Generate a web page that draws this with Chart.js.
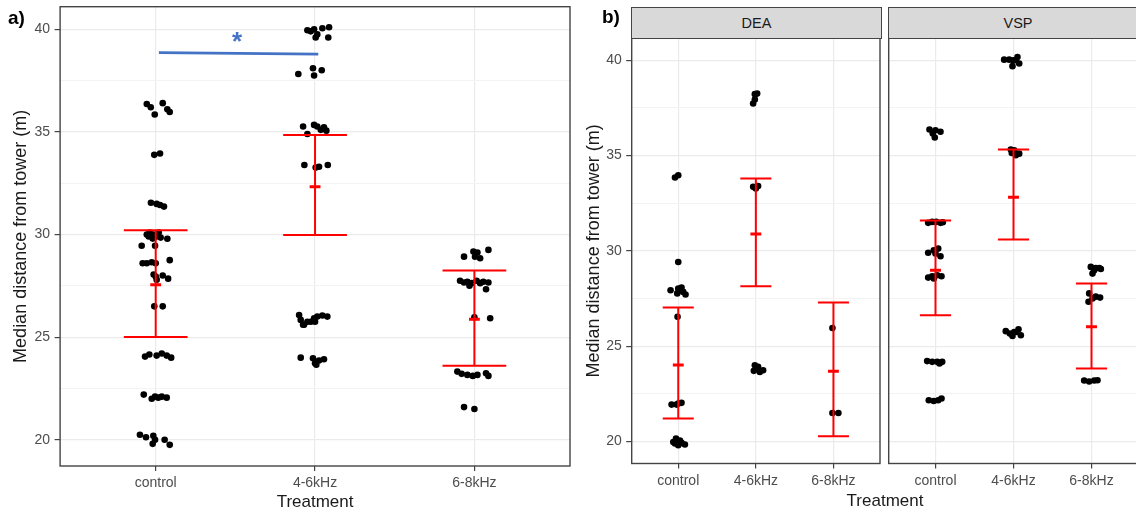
<!DOCTYPE html>
<html lang="en">
<head>
<meta charset="UTF-8">
<title>Median distance from tower by treatment</title>
<style>
    html, body {
        margin: 0;
        padding: 0;
        background: #fff;
        overflow: hidden;
    }
    body {
        width: 1136px;
        height: 514px;
        position: relative;
        font-family: "Liberation Sans", Arial, sans-serif;
    }
    .panel {
        position: absolute;
        top: 0;
        height: 514px;
    }
    #wrapA { left: 0; width: 580px; }
    #wrapDEA { left: 580px; width: 304px; }
    #wrapVSP { left: 884px; width: 260px; }
    .strip {
        position: absolute;
        top: 7px;
        height: 32px;
        background: #d9d9d9;
        border: 1.4px solid #444;
        box-sizing: border-box;
        text-align: center;
        line-height: 30px;
        font-size: 14.5px;
        color: #1a1a1a;
    }
    .tag {
        position: absolute;
        font-weight: bold;
        font-size: 19px;
        color: #000;
    }
    .xtitle {
        position: absolute;
        font-size: 17px;
        color: #1a1a1a;
        text-align: center;
        line-height: 20px;
    }
</style>
</head>
<body>
    <div class="panel" id="wrapA"><canvas id="chartA"></canvas></div>
    <div class="panel" id="wrapDEA"><canvas id="chartDEA"></canvas></div>
    <div class="panel" id="wrapVSP"><canvas id="chartVSP"></canvas></div>

    <div class="strip" style="left:631px; width:251px;">DEA</div>
    <div class="strip" style="left:888px; width:260px;">VSP</div>

    <div class="tag" style="left:8px; top:7px;">a)</div>
    <div class="tag" style="left:602px; top:6px;">b)</div>
    <div class="xtitle" style="left:785px; top:491px; width:200px;">Treatment</div>

    <script src="https://cdn.jsdelivr.net/npm/chart.js"></script>
    <script>
        const categories = ['control', '4-6kHz', '6-8kHz'];
        const yTicks = [20, 25, 30, 35, 40];
        const yMinor = [22.5, 27.5, 32.5, 37.5];

        // a) all sites, each point is [median distance, horizontal jitter]
        const aControl = [
            [36.36, -0.056], [36.2, -0.031], [35.85, -0.006], [36.4, 0.044], [36.1, 0.073], [35.97, 0.088],
            [33.88, -0.009], [33.95, 0.027],
            [31.55, -0.03], [31.49, 0.006], [31.44, 0.027], [31.36, 0.052],
            [30.0, -0.056], [30.1, -0.038], [30.0, -0.013], [30.1, 0.019], [29.85, 0.031], [29.8, -0.019], [29.9, -0.044], [29.9, 0.006],
            [29.79, 0.073], [29.45, -0.088], [29.45, -0.004],
            [28.6, -0.082], [28.6, -0.056], [28.65, -0.025], [28.6, 0], [28.75, 0.088],
            [28.05, -0.013], [27.8, 0.006], [28.0, 0.044], [27.85, 0.078], [27.95, 0],
            [26.5, -0.009], [26.5, 0.044],
            [24.05, -0.067], [24.15, -0.04], [24.1, 0.006], [24.2, 0.038], [24.1, 0.069], [24.0, 0.097],
            [22.2, -0.075], [22.0, -0.025], [22.1, -0.004], [22.05, 0.016], [22.1, 0.038], [22.05, 0.069],
            [20.24, -0.099], [20.12, -0.061], [20.19, -0.015], [20.0, -0.004], [19.8, -0.019], [20.0, 0.056], [19.75, 0.088]
        ];
        const a46 = [
            [39.95, -0.048], [39.9, -0.027], [40.0, -0.006], [39.75, 0.014], [39.6, 0.004], [40.05, 0.046], [40.1, 0.088], [39.6, 0.083],
            [37.82, -0.105], [38.1, -0.013], [37.75, -0.006], [38.0, 0.042],
            [35.26, -0.075], [35.34, -0.006], [35.26, 0.014], [35.22, 0.056], [35.06, 0.071], [34.9, -0.048], [35.1, 0.036],
            [33.39, -0.067], [33.26, 0.004], [33.3, 0.025], [33.39, 0.08],
            [26.08, -0.1], [25.84, -0.09], [25.6, -0.075], [25.75, -0.048], [25.75, -0.027], [25.92, -0.006], [26.0, 0.014], [26.05, 0.046], [26.0, 0.077], [25.6, -0.069], [25.75, 0],
            [24.0, -0.09], [23.97, -0.013], [23.73, 0], [23.86, 0.025], [23.92, 0.056], [23.65, 0.008]
        ];
        const a68 = [
            [28.92, -0.065], [29.17, -0.006], [29.12, 0.019], [28.84, 0.036], [29.25, 0.088], [28.92, 0.004],
            [27.75, -0.09], [27.66, -0.065], [27.7, -0.044], [27.63, -0.017], [27.75, 0.014], [27.63, 0.036], [27.7, 0.056], [27.66, 0.088], [27.33, 0.073], [27.5, -0.031],
            [25.97, 0], [25.92, 0.099],
            [23.32, -0.107], [23.21, -0.08], [23.16, -0.044], [23.11, -0.01], [23.16, 0.019], [23.24, 0.073], [23.11, 0.088],
            [21.59, -0.065], [21.5, 0]
        ];
        const aMean = [27.55, 32.33, 25.87];
        const aLow = [25.01, 29.97, 23.61];
        const aHigh = [30.21, 34.85, 28.24];

        // significance bar control vs 4-6kHz
        const sigFrom = [1.02, 38.86];
        const sigTo = [2.02, 38.79];
        const sigMark = [1.51, 39.72, '*'];

        // b) DEA site
        const deaControl = [
            [33.85, -0.042], [33.97, 0],
            [29.42, 0],
            [27.94, -0.099], [28.03, 0], [28.08, 0.042], [27.85, 0.064], [27.77, -0.013], [27.71, 0.094], [27.94, 0.022],
            [26.54, -0.009],
            [21.94, -0.086], [22.0, 0], [22.03, 0.042], [21.94, -0.022],
            [19.98, -0.064], [20.16, -0.029], [19.81, 0], [19.93, 0.042], [19.85, 0.086], [19.9, -0.042], [20.05, 0.022]
        ];
        const dea46 = [
            [38.22, -0.013], [38.25, 0.017], [37.73, -0.035], [37.94, -0.013],
            [33.36, -0.035], [33.4, 0.029], [33.27, 0],
            [24.0, -0.013], [23.71, -0.026], [23.92, 0.029], [23.74, 0.094], [23.65, 0.051]
        ];
        const dea68 = [[25.96, -0.013], [21.5, -0.013], [21.5, 0.064]];
        const deaMean = [24.01, 30.89, 23.69];
        const deaLow = [21.21, 28.15, 20.28];
        const deaHigh = [27.03, 33.8, 27.29];

        // b) VSP site
        const vspControl = [
            [36.37, -0.077], [36.33, 0], [36.25, 0.064], [35.95, -0.009], [36.16, -0.035],
            [31.47, -0.094], [31.52, -0.042], [31.52, 0.009], [31.47, 0.064], [31.5, 0.094],
            [29.9, -0.094], [30.03, -0.022], [30.12, 0.035], [29.72, 0.064], [29.86, 0],
            [28.6, -0.094], [28.67, -0.042], [28.72, 0.022], [28.67, 0.077], [28.55, -0.022],
            [24.22, -0.107], [24.18, -0.042], [24.18, 0.022], [24.18, 0.086], [24.1, 0.051],
            [22.17, -0.086], [22.13, -0.022], [22.17, 0.035], [22.26, 0.077]
        ];
        const vsp46 = [
            [40.03, -0.12], [40.03, -0.055], [40.0, -0.004], [40.17, 0.051], [39.83, 0.073], [39.69, -0.013], [40.0, 0.03],
            [35.32, -0.035], [35.28, 0.009], [35.1, 0.073], [35.02, 0.03], [35.14, -0.022],
            [25.79, -0.099], [25.67, -0.047], [25.75, 0.009], [25.89, 0.064], [25.58, 0.094], [25.54, -0.013], [25.75, 0.038]
        ];
        const vsp68 = [
            [29.16, -0.009], [28.99, 0.035], [29.1, 0.055], [28.81, 0.013], [29.1, 0.1], [29.05, 0.12],
            [27.77, -0.03], [27.51, 0.013], [27.6, 0.055], [27.33, -0.038], [27.55, 0.11],
            [23.2, -0.094], [23.15, -0.03], [23.2, 0.035], [23.22, 0.077]
        ];
        const vspMean = [28.99, 32.82, 26.02];
        const vspLow = [26.63, 30.6, 23.83];
        const vspHigh = [31.6, 35.32, 28.29];

        Chart.defaults.font.family = '"Liberation Sans", Arial, sans-serif';

        const isMajor = v => yTicks.includes(v);

        // ggplot-like panel border around the plotting area
        const frame = {
            id: 'frame',
            afterDraw(chart) {
                const a = chart.chartArea;
                const ctx = chart.ctx;
                ctx.save();
                ctx.strokeStyle = '#444';
                ctx.lineWidth = 1.4;
                ctx.strokeRect(a.left, a.top, a.right - a.left, a.bottom - a.top);
                ctx.restore();
            }
        };

        const starLabel = {
            id: 'starLabel',
            afterDatasetsDraw(chart, args, opts) {
                if (!opts.mark) return;
                const ctx = chart.ctx;
                const size = 26;
                const x = chart.scales.x.getPixelForValue(opts.mark[0]);
                const y = chart.scales.y.getPixelForValue(opts.mark[1]);
                ctx.save();
                ctx.fillStyle = '#4472c4';
                ctx.font = 'bold ' + size + 'px "Liberation Sans", Arial, sans-serif';
                ctx.textAlign = 'center';
                ctx.textBaseline = 'alphabetic';
                ctx.fillText(opts.mark[2], x, y + size * 0.57);
                ctx.restore();
            }
        };

        function makePanel(id, groups, means, lows, highs, cfg) {
            const pts = groups.flatMap((g, i) => g.map(p => ({ x: i + 1 + p[1], y: p[0] })));
            const whisker = [], caps = [], mids = [];
            means.forEach((m, i) => {
                const c = i + 1;
                whisker.push({ x: c, y: lows[i] }, { x: c, y: highs[i] }, { x: c, y: null });
                caps.push({ x: c - 0.2, y: highs[i] }, { x: c + 0.2, y: highs[i] }, { x: c, y: null });
                caps.push({ x: c - 0.2, y: lows[i] }, { x: c + 0.2, y: lows[i] }, { x: c, y: null });
                mids.push({ x: c - cfg.midHalf, y: m }, { x: c + cfg.midHalf, y: m }, { x: c, y: null });
            });
            const lineSet = (data, w, color, order) => ({
                data, showLine: true, spanGaps: false, pointRadius: 0,
                borderColor: color, borderWidth: w, order
            });
            const datasets = [
                { data: pts, pointRadius: 3.3, pointBackgroundColor: '#000', pointBorderWidth: 0, order: 3 },
                lineSet(whisker, 2, '#ff0000', 1),
                lineSet(caps, 2, '#ff0000', 1),
                lineSet(mids, 3, '#ff0000', 0)
            ];
            if (cfg.sig) {
                datasets.push(lineSet([{ x: cfg.sig[0][0], y: cfg.sig[0][1] }, { x: cfg.sig[1][0], y: cfg.sig[1][1] }], 2.8, '#4472c4', 0));
            }

            return new Chart(document.getElementById(id), {
                type: 'scatter',
                data: { datasets },
                plugins: [frame, starLabel],
                options: {
                    responsive: true,
                    maintainAspectRatio: false,
                    animation: false,
                    events: [],
                    layout: { padding: cfg.padding },
                    plugins: {
                        legend: { display: false },
                        tooltip: { enabled: false },
                        starLabel: { mark: cfg.mark || null }
                    },
                    scales: {
                        x: {
                            type: 'linear',
                            min: 0.4,
                            max: 3.6,
                            afterBuildTicks: s => { s.ticks = categories.map((c, i) => ({ value: i + 1 })); },
                            afterFit: s => {
                                s.height = cfg.xHeight;
                                s.paddingLeft = 0;
                                s.paddingRight = 0;
                            },
                            border: { display: false },
                            grid: { color: '#ebebeb', lineWidth: 1.2, tickColor: '#444', tickLength: 5 },
                            ticks: {
                                autoSkip: false,
                                maxRotation: 0,
                                padding: 4,
                                color: '#4d4d4d',
                                font: { size: 14 },
                                callback: v => categories[v - 1]
                            },
                            title: {
                                display: !!cfg.xTitle,
                                text: cfg.xTitle || '',
                                color: '#1a1a1a',
                                font: { size: 17 },
                                padding: { top: 0, bottom: 1.5 }
                            }
                        },
                        y: {
                            min: cfg.yMin,
                            max: cfg.yMax,
                            afterBuildTicks: s => {
                                s.ticks = yTicks.concat(yMinor).sort((p, q) => p - q).map(v => ({ value: v }));
                            },
                            afterFit: s => {
                                s.width = cfg.yWidth;
                                s.paddingTop = 0;
                                s.paddingBottom = 0;
                            },
                            border: { display: false },
                            grid: {
                                drawTicks: cfg.showY,
                                tickLength: 5.5,
                                color: c => isMajor(c.tick.value) ? '#ebebeb' : '#f3f3f3',
                                lineWidth: c => isMajor(c.tick.value) ? 1.2 : 1,
                                tickColor: c => isMajor(c.tick.value) ? '#444' : 'rgba(0,0,0,0)'
                            },
                            ticks: {
                                display: cfg.showY,
                                padding: 4.5,
                                color: '#4d4d4d',
                                font: { size: 14 },
                                callback: v => isMajor(v) ? v : ''
                            },
                            title: {
                                display: !!cfg.yTitle,
                                text: cfg.yTitle || '',
                                color: '#1a1a1a',
                                font: { size: 18 },
                                padding: { top: cfg.yTitlePad || 0, bottom: 0 }
                            }
                        }
                    }
                }
            });
        }

        makePanel('chartA', [aControl, a46, a68], aMean, aLow, aHigh, {
            padding: { top: 6.7, right: 10, left: 0, bottom: 0 },
            yWidth: 60.1, xHeight: 48, yMin: 18.72, yMax: 41.1,
            showY: true, midHalf: 0.034,
            yTitle: 'Median distance from tower (m)', yTitlePad: 10.5,
            xTitle: 'Treatment',
            sig: [sigFrom, sigTo], mark: sigMark
        });

        makePanel('chartDEA', [deaControl, dea46, dea68], deaMean, deaLow, deaHigh, {
            padding: { top: 38.3, right: 3, left: 0, bottom: 0 },
            yWidth: 51.7, xHeight: 50.5, yMin: 18.85, yMax: 41.15,
            showY: true, midHalf: 0.07,
            yTitle: 'Median distance from tower (m)', yTitlePad: 3.7
        });

        makePanel('chartVSP', [vspControl, vsp46, vsp68], vspMean, vspLow, vspHigh, {
            padding: { top: 38.3, right: 5.7, left: 0, bottom: 0 },
            yWidth: 4.7, xHeight: 50.5, yMin: 18.85, yMax: 41.15,
            showY: false, midHalf: 0.07
        });
    </script>
</body>
</html>
